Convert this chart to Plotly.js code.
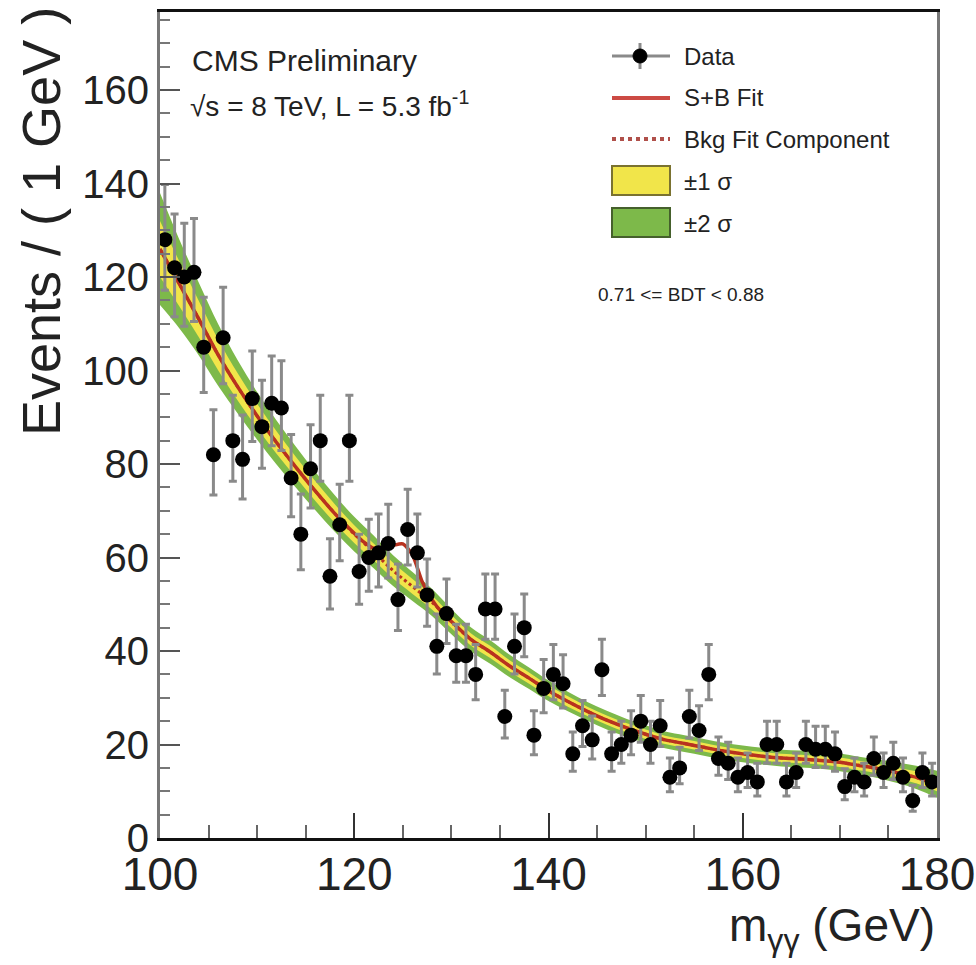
<!DOCTYPE html>
<html>
<head>
<meta charset="utf-8">
<script src="https://cdn.plot.ly/plotly-3.0.1.min.js"></script>
<style>html,body{margin:0;padding:0;background:#fff;}#chart{width:976px;height:965px;}</style>
</head>
<body>
<div id="chart"></div>
<script>
// ---- Data: events per 1 GeV bin (bin centres) ----
var massBins = [100.5,101.5,102.5,103.5,104.5,105.5,106.5,107.5,108.5,109.5,
                110.5,111.5,112.5,113.5,114.5,115.5,116.5,117.5,118.5,119.5,
                120.5,121.5,122.5,123.5,124.5,125.5,126.5,127.5,128.5,129.5,
                130.5,131.5,132.5,133.5,134.5,135.5,136.5,137.5,138.5,139.5,
                140.5,141.5,142.5,143.5,144.5,145.5,146.5,147.5,148.5,149.5,
                150.5,151.5,152.5,153.5,154.5,155.5,156.5,157.5,158.5,159.5,
                160.5,161.5,162.5,163.5,164.5,165.5,166.5,167.5,168.5,169.5,
                170.5,171.5,172.5,173.5,174.5,175.5,176.5,177.5,178.5,179.5];
var events = [128,122,120,121,105,82,107,85,81,94,
              88,93,92,77,65,79,85,56,67,85,
              57,60,61,63,51,66,61,52,41,48,
              39,39,35,49,49,26,41,45,22,32,
              35,33,18,24,21,36,18,20,22,25,
              20,24,13,15,26,23,35,17,16,13,
              14,12,20,20,12,14,20,19,19,18,
              11,13,12,17,14,16,13,8,14,12];
var errHigh = [11.8,11.5,11.5,11.5,10.7,9.6,10.8,9.7,9.5,10.2,
               9.9,10.1,10.1,9.3,8.6,9.4,9.7,8.0,8.7,9.7,
               8.0,8.2,8.3,8.4,7.6,8.6,8.3,7.7,6.9,7.4,
               6.7,6.7,6.4,7.5,7.5,5.6,6.9,7.2,5.2,6.2,
               6.4,6.2,4.7,5.4,5.1,6.5,4.7,5.0,5.2,5.5,
               5.0,5.4,4.1,4.4,5.6,5.3,6.4,4.6,4.5,4.1,
               4.2,4.0,5.0,5.0,4.0,4.2,5.0,4.9,4.9,4.7,
               3.8,4.1,4.0,4.6,4.2,4.5,4.1,3.3,4.2,4.0];
var errLow = [10.8,10.5,10.5,10.5,9.7,8.6,9.8,8.7,8.5,9.2,
              8.9,9.1,9.1,8.3,7.6,8.4,8.7,7.0,7.7,8.7,
              7.0,7.2,7.3,7.4,6.6,7.6,7.3,6.7,5.9,6.4,
              5.7,5.7,5.4,6.5,6.5,4.6,5.9,6.2,4.2,5.2,
              5.4,5.2,3.7,4.4,4.1,5.5,3.7,4.0,4.2,4.5,
              4.0,4.4,3.1,3.4,4.6,4.3,5.4,3.6,3.5,3.1,
              3.2,3.0,4.0,4.0,3.0,3.2,4.0,3.9,3.9,3.7,
              2.8,3.1,3.0,3.6,3.2,3.5,3.1,2.3,3.2,3.0];

// ---- Background fit and uncertainty bands ----
var fitMass = [100,102,104,106,108,110,112,114,116,118,
               120,122,124,126,128,130,132,134,136,138,
               140,142,144,146,148,150,152,154,156,158,
               160,162,164,166,168,170,172,174,176,178,180];
var bkgFit = [126,118.5,111,103.3,96.5,90.3,84.6,79.3,74.2,69.4,
              65,61.2,57.2,53.8,50.4,46.3,42.5,39.8,36.8,34.2,
              31.5,29.2,27.1,25.2,23.6,22.2,21.0,20.2,19.4,18.6,
              18.0,17.5,17.1,16.9,16.6,16.2,15.5,14.8,13.9,12.9,11.5];
var band2Half = [12,9.5,7.8,6.6,5.7,5.1,4.7,4.4,4.1,3.9,
                 3.7,3.5,3.3,3.1,2.9,2.7,2.6,2.5,2.4,2.3,
                 2.2,2.1,2.0,2.0,1.9,1.9,1.8,1.8,1.8,1.8,
                 1.8,1.8,1.8,1.8,1.8,1.9,1.9,2.0,2.2,2.5,2.9];
var band1Half = [6,4.8,3.9,3.3,2.9,2.6,2.4,2.2,2.1,2.0,
                 1.9,1.8,1.7,1.6,1.5,1.4,1.3,1.3,1.2,1.2,
                 1.1,1.1,1.0,1.0,1.0,1.0,0.9,0.9,0.9,0.9,
                 0.9,0.9,0.9,0.9,0.9,1.0,1.0,1.0,1.1,1.3,1.5];

// ---- Signal + background fit ----
var sbMass = [100,102,104,106,108,110,112,114,116,118,
              120,121,122,123,124,125,126,127,128,129,130,132,134,136,138,
              140,142,144,146,148,150,152,154,156,158,
              160,162,164,166,168,170,172,174,176,178,180];
var sbFit = [126,118.5,111,103.3,96.5,90.3,84.6,79.3,74.2,69.4,
             65.2,63.3,62.0,62.2,62.6,62.9,60.5,54.8,51.0,48.3,46.3,42.5,39.8,36.8,34.2,
             31.5,29.2,27.1,25.2,23.6,22.2,21.0,20.2,19.4,18.6,
             18.0,17.5,17.1,16.9,16.6,16.2,15.5,14.8,13.9,12.9,11.5];

var xTickVals = [100,120,140,160,180];
var yTickVals = [0,20,40,60,80,100,120,140,160];

var legendLabels = ["Data","S+B Fit","Bkg Fit Component","±1 σ","±2 σ"];

// ---- Build ----
function add(a,b,s){ return a.map(function(v,i){ return v + s*b[i]; }); }

var YELLOW = '#f1e54a', GREEN = '#7db94a', RED = '#b8321f';

var traces = [
  {x: fitMass, y: add(bkgFit, band2Half, -1), mode:'lines', line:{width:0, shape:'spline'}, hoverinfo:'skip', showlegend:false},
  {x: fitMass, y: add(bkgFit, band2Half, 1), mode:'lines', line:{width:0, shape:'spline'}, fill:'tonexty', fillcolor:GREEN, hoverinfo:'skip', showlegend:false, name: legendLabels[4]},
  {x: fitMass, y: add(bkgFit, band1Half, -1), mode:'lines', line:{width:0, shape:'spline'}, hoverinfo:'skip', showlegend:false},
  {x: fitMass, y: add(bkgFit, band1Half, 1), mode:'lines', line:{width:0, shape:'spline'}, fill:'tonexty', fillcolor:YELLOW, hoverinfo:'skip', showlegend:false, name: legendLabels[3]},
  {x: fitMass, y: bkgFit, mode:'lines', line:{color:RED, width:3, dash:'dot', shape:'spline'}, showlegend:false, name: legendLabels[2]},
  {x: sbMass, y: sbFit, mode:'lines', line:{color:RED, width:3.5, shape:'spline', smoothing:0.7}, showlegend:false, name: legendLabels[1]},
  {x: massBins, y: events, mode:'markers', name: legendLabels[0], showlegend:false,
   marker:{color:'#000', size:15},
   error_y:{type:'data', symmetric:false, array:errHigh, arrayminus:errLow, color:'#8a8a8a', thickness:3, width:4}}
];

var FONT = 'Liberation Sans, Arial, Helvetica, sans-serif';
function px2x(p){ return (p-160)/777; }
function py2y(p){ return (838-p)/826; }

var shapes = [
  // legend: Data
  {type:'line', xref:'paper', yref:'paper', x0:px2x(612), x1:px2x(670), y0:py2y(56), y1:py2y(56), line:{color:'#8a8a8a', width:3}},
  {type:'line', xref:'paper', yref:'paper', x0:px2x(640), x1:px2x(640), y0:py2y(43), y1:py2y(69), line:{color:'#8a8a8a', width:3}},
  {type:'circle', xref:'paper', yref:'paper', xsizemode:'pixel', ysizemode:'pixel', xanchor:px2x(640), yanchor:py2y(56), x0:-7, x1:7, y0:-7, y1:7, fillcolor:'#000', line:{color:'#000', width:1}},
  // legend: S+B
  {type:'line', xref:'paper', yref:'paper', x0:px2x(612), x1:px2x(670), y0:py2y(98), y1:py2y(98), line:{color:'#cc4a44', width:4}},
  // legend: Bkg
  {type:'line', xref:'paper', yref:'paper', x0:px2x(612), x1:px2x(670), y0:py2y(139), y1:py2y(139), line:{color:'#b0504a', width:4, dash:'dot'}},
  // legend: bands
  {type:'rect', xref:'paper', yref:'paper', x0:px2x(612), x1:px2x(670), y0:py2y(195), y1:py2y(166), fillcolor:YELLOW, line:{color:'#7a7230', width:2}},
  {type:'rect', xref:'paper', yref:'paper', x0:px2x(612), x1:px2x(670), y0:py2y(237), y1:py2y(208), fillcolor:GREEN, line:{color:'#45602c', width:2}}
];

var legendY = [56, 98, 139, 181, 223];
var annotations = legendLabels.map(function(t,i){
  return {text:t, xref:'paper', yref:'paper', x:px2x(682), y:py2y(legendY[i]), xanchor:'left', yanchor:'middle', showarrow:false, font:{family:FONT, size:24, color:'#222'}};
});
annotations.push(
  {text:'CMS Preliminary', xref:'paper', yref:'paper', x:px2x(190), y:py2y(61), xanchor:'left', yanchor:'middle', showarrow:false, font:{family:FONT, size:30, color:'#222'}},
  {text:'√s = 8 TeV, L = 5.3 fb<sup>-1</sup>', xref:'paper', yref:'paper', x:px2x(188), y:py2y(104), xanchor:'left', yanchor:'middle', showarrow:false, font:{family:FONT, size:28, color:'#222'}},
  {text:'0.71 <= BDT < 0.88', xref:'paper', yref:'paper', x:px2x(596), y:py2y(294), xanchor:'left', yanchor:'middle', showarrow:false, font:{family:FONT, size:19, color:'#222'}},
  {text:'Events / ( 1 GeV )', xref:'paper', yref:'paper', x:px2x(41), y:py2y(222), xanchor:'center', yanchor:'middle', textangle:-90, showarrow:false, font:{family:FONT, size:54, color:'#222'}},
  {text:'m<sub>γγ</sub> (GeV)', xref:'paper', yref:'paper', x:1, y:py2y(928), xanchor:'right', yanchor:'middle', showarrow:false, font:{family:FONT, size:46, color:'#222'}}
);

var layout = {
  width:976, height:965,
  margin:{l:160, r:39, t:12, b:127},
  paper_bgcolor:'#fff', plot_bgcolor:'#fff',
  showlegend:false,
  font:{family:FONT, color:'#222'},
  xaxis:{range:[100,180], tickvals:xTickVals, ticks:'inside', ticklen:25, tickwidth:2, tickcolor:'#333',
         minor:{dtick:5, ticks:'inside', ticklen:13, tickwidth:2, tickcolor:'#666', showgrid:false},
         showgrid:false, zeroline:false, showline:true, linecolor:'#111', linewidth:3, mirror:true,
         ticklabelstandoff:-6,
         tickfont:{family:FONT, size:46, color:'#222'}},
  yaxis:{range:[0,176.7], tickvals:yTickVals, ticks:'inside', ticklen:20, tickwidth:2, tickcolor:'#555',
         minor:{dtick:5, ticks:'inside', ticklen:10, tickwidth:2, tickcolor:'#777', showgrid:false},
         showgrid:false, zeroline:false, showline:true, linecolor:'#777', linewidth:3, mirror:true,
         tickfont:{family:FONT, size:40, color:'#222'}},
  shapes:shapes,
  annotations:annotations
};

Plotly.newPlot('chart', traces, layout, {staticPlot:true, displayModeBar:false});
</script>
</body>
</html>
